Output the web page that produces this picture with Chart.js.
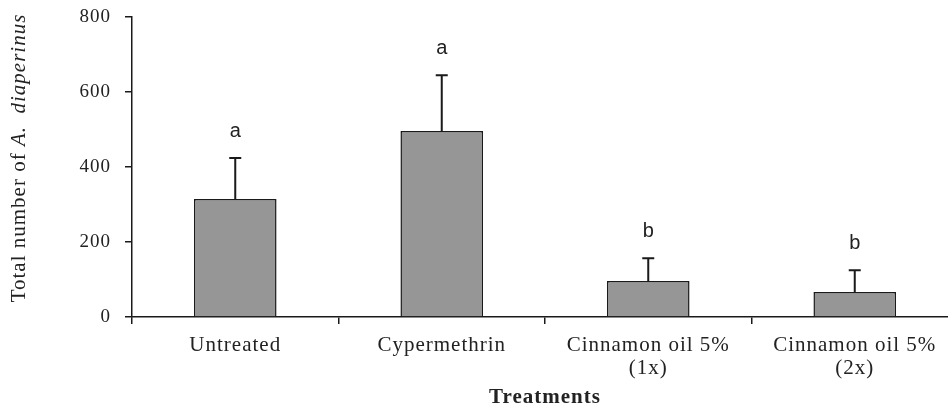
<!DOCTYPE html>
<html>
<head>
<meta charset="utf-8">
<script src="https://cdn.jsdelivr.net/npm/chart.js@4"></script>
<style>
  html, body { margin: 0; padding: 0; background: #fff; overflow: hidden; }
  #chart { display: block; }
</style>
</head>
<body>
<canvas id="chart" width="960" height="411"></canvas>
<script>
/* data */
const treatments = [
  'Untreated',
  'Cypermethrin',
  ['Cinnamon oil 5%', '(1x)'],
  ['Cinnamon oil 5%', '(2x)']
];
const meanCounts = [315, 496, 96, 67];
const stdErrors = [109, 149, 61, 58];
const groupLetters = ['a', 'a', 'b', 'b'];
const yTicks = [0, 200, 400, 600, 800];

const SERIF = '"Liberation Serif", "Times New Roman", serif';

/* the source figure has wide-set type, so space the axis text a little */
const wideText = {
  id: 'wideText',
  beforeDraw(chart) { chart.ctx.letterSpacing = '1px'; },
  beforeDatasetsDraw(chart) { chart.ctx.letterSpacing = '0px'; }
};

/* error bars + significance letters */
const errorBars = {
  id: 'errorBars',
  afterDatasetsDraw(chart) {
    const ctx = chart.ctx;
    const y = chart.scales.y;
    const meta = chart.getDatasetMeta(0);
    ctx.save();
    ctx.strokeStyle = '#1a1a1a';
    ctx.lineWidth = 2;
    meta.data.forEach((bar, i) => {
      const top = y.getPixelForValue(meanCounts[i] + stdErrors[i]);
      const base = y.getPixelForValue(meanCounts[i]);
      ctx.beginPath();
      ctx.moveTo(bar.x, base);
      ctx.lineTo(bar.x, top);
      ctx.moveTo(bar.x - 6, top);
      ctx.lineTo(bar.x + 6, top);
      ctx.stroke();
      ctx.fillStyle = '#222';
      ctx.font = '20px "Liberation Sans", Arial, sans-serif';
      ctx.textAlign = 'center';
      ctx.textBaseline = 'middle';
      ctx.fillText(groupLetters[i], bar.x, top - 27);
    });
    ctx.restore();
  }
};

/* y title with italic species name */
const yTitle = {
  id: 'yTitle',
  afterDraw(chart) {
    const ctx = chart.ctx;
    const parts = [
      ['Total number of ', 'normal'],
      ['A.  diaperinus', 'italic']
    ];
    ctx.save();
    ctx.letterSpacing = '1px';
    ctx.translate(19, 158);
    ctx.rotate(-Math.PI / 2);
    ctx.fillStyle = '#222';
    ctx.textBaseline = 'middle';
    let total = 0;
    parts.forEach(p => {
      ctx.font = p[1] + ' 21px ' + SERIF;
      total += ctx.measureText(p[0]).width;
    });
    let x = -total / 2;
    parts.forEach(p => {
      ctx.font = p[1] + ' 21px ' + SERIF;
      ctx.textAlign = 'left';
      ctx.fillText(p[0], x, 0);
      x += ctx.measureText(p[0]).width;
    });
    ctx.restore();
  }
};

new Chart(document.getElementById('chart'), {
  type: 'bar',
  data: {
    labels: treatments,
    datasets: [{
      data: meanCounts,
      backgroundColor: '#969696',
      borderColor: '#1a1a1a',
      borderWidth: 1.5,
      barPercentage: 0.8,
      categoryPercentage: 0.5
    }]
  },
  options: {
    responsive: false,
    animation: false,
    layout: { padding: { top: 17, right: 2, left: 0, bottom: 0 } },
    plugins: { legend: { display: false }, tooltip: { enabled: false } },
    scales: {
      x: {
        afterFit: s => { s.height = 94; },
        border: { color: '#1a1a1a', width: 1.5 },
        grid: { offset: true, drawOnChartArea: false, color: '#1a1a1a', tickLength: 7, lineWidth: 1.5 },
        ticks: { color: '#222', font: { family: SERIF, size: 21, lineHeight: 1.1 }, padding: 10, maxRotation: 0 },
        title: { display: true, text: 'Treatments', color: '#222', font: { family: SERIF, size: 21, weight: 'bold' }, padding: { top: 0, bottom: 1 } }
      },
      y: {
        min: 0,
        max: 800,
        afterFit: s => { s.width = 132; s.paddingTop = 0; s.paddingBottom = 0; },
        afterBuildTicks: s => { s.ticks = yTicks.map(v => ({ value: v })); },
        border: { color: '#1a1a1a', width: 1.5 },
        grid: { drawOnChartArea: false, color: '#1a1a1a', tickLength: 7, lineWidth: 1.5 },
        ticks: { color: '#222', font: { family: SERIF, size: 19 }, padding: 14 }
      }
    }
  },
  plugins: [wideText, errorBars, yTitle]
});
</script>
</body>
</html>
